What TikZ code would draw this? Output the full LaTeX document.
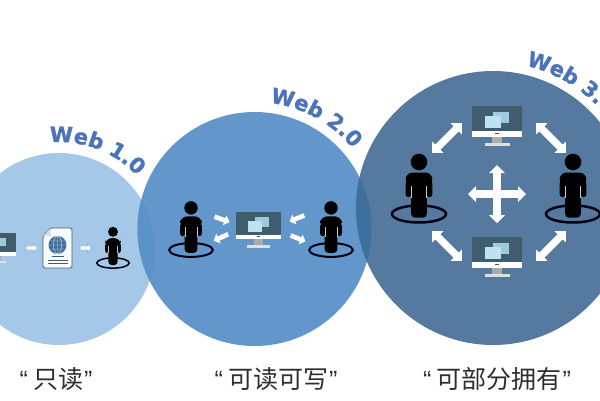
\documentclass[tikz,border=0pt]{standalone}
\usepackage{fontspec}
\setmainfont{Liberation Sans}
\newfontfamily\cjkfont{Noto Sans CJK SC}
\newfontfamily\webfont[FakeBold=1.4]{DejaVu Sans Bold}
\usetikzlibrary{calc}
\usetikzlibrary{shapes.arrows}
\usetikzlibrary{decorations.text}

\definecolor{webone}{HTML}{A5C8E9}
\definecolor{webtwo}{HTML}{6397CB}
\definecolor{webthree}{HTML}{56799F}
\definecolor{lensone}{HTML}{5B92C8}
\definecolor{lenstwo}{HTML}{3F6F9F}
\definecolor{webtitle}{HTML}{4A73B8}
\definecolor{screendark}{HTML}{3F5D6C}
\definecolor{winback}{HTML}{9CCBDD}
\definecolor{winfront}{HTML}{BFE2F2}
\definecolor{labelgrey}{HTML}{2E2E2E}

\tikzset{
	person/.pic={
		\draw [line width=\pgflinewidth,black!93!blue] (0,0) ellipse (27 and 8.5);
		\fill [black] (0,-52) circle (8.3);
		\fill [black,rounded corners=3.5] (-7.8,-38) rectangle (7.8,3.5);
		\fill [black,rounded corners=7] (-13.3,-28) -- (-13.3,-41.5) -- (13.3,-41.5) -- (13.3,-28) -- cycle;
		\fill [black,rounded corners=2.5] (-13.3,-17) rectangle (-7.6,-33);
		\fill [black,rounded corners=2.5] (7.6,-17) rectangle (13.3,-33);
		\draw [white!60!webthree,line width=0.5pt] (-7.7,-28) -- (-7.7,-16) (7.7,-28) -- (7.7,-16);
	},
	monitor/.pic={
		\fill [screendark] (-25,0) rectangle (25,25);
		\fill [winback] (-3.7,6) rectangle (12,17);
		\fill [winfront] (-12,10) rectangle (3.7,21.7);
		\fill [white] (-25,25) rectangle (25,30.5);
		\fill [black!70] (-2,27.2) rectangle (2,28.3);
		\fill [gray!65] (-5,30.5) rectangle (5,37);
		\fill [white!75!gray] (-12.5,37) rectangle (12.5,39.5);
	},
	docicon/.pic={
		\draw [screendark,fill=white!92!webone,line width=0.9pt,rounded corners=1.5] (-7,-20) -- (14.5,-20) -- (14.5,20) -- (-14.5,20) -- (-14.5,-12) -- cycle;
		\fill [webone!60!white] (-7,-20) -- (-7,-12) -- (-14.5,-12) -- cycle;
		\fill [lenstwo] (0,-3) circle (9);
		\draw [white!80!lenstwo,line width=0.4pt] (0,-3) ellipse (4 and 9) (-9,-3) -- (9,-3) (-8,-7) -- (8,-7) (-8,1) -- (8,1) (0,-12) -- (0,6);
		\draw [screendark,line width=0.7pt] (-6,8) -- (6,8) (-10,12) -- (10,12) (-10,15.5) -- (10,15.5);
	}
}
\tikzset{
	flowarrow/.style={single arrow,draw=webone!70!lenstwo,fill=white!85!webone,line width=0.5pt,inner sep=1.8pt,minimum height=12pt,minimum width=9pt,single arrow head extend=2.5pt},
	smallarrow/.style={single arrow,fill=white,inner sep=2.1pt,minimum height=16pt,minimum width=9.5pt,single arrow head extend=3pt},
	bigarrow/.style={double arrow,fill=white,inner sep=3.2pt,minimum height=42pt,minimum width=16pt,double arrow head extend=4pt},
	crossarrow/.style={double arrow,fill=white,inner sep=3.6pt,minimum height=58pt,minimum width=16pt,double arrow head extend=4pt},
	eralabel/.style={text=labelgrey,font=\fontsize{25}{25}\selectfont,inner sep=0pt}
}
\newcommand{\webtitle}{\webfont\fontsize{21}{21}\selectfont\color{webtitle}}

\begin{document}
\begin{tikzpicture}[x=1pt,y=-1pt]
\useasboundingbox (0,0) rectangle (600,400);
\clip (0,0) rectangle (600,400);

\coordinate (cone) at (59,249);
\coordinate (ctwo) at (254.5,229);
\coordinate (cthree) at (493,208);

% circles and the parts where they overlap
\fill [webone] (cone) circle (96pt);
\fill [webtwo] (ctwo) circle (117pt);
\fill [webthree] (cthree) circle (137pt);
\begin{scope}
\clip (cone) circle (96pt);
\fill [lensone] (ctwo) circle (117pt);
\end{scope}
\begin{scope}
\clip (ctwo) circle (117pt);
\fill [lenstwo] (cthree) circle (137pt);
\end{scope}

% titles
\path [decorate,decoration={text along path,text align=left,text={|\webtitle|Web 1.0}}]
	($(cone)+(95:107pt)$) arc [start angle=95,end angle=30,radius=107pt];
\path [decorate,decoration={text along path,text align=left,text={|\webtitle|Web 2.0}}]
	($(ctwo)+(83:127pt)$) arc [start angle=83,end angle=25,radius=127pt];
\path [decorate,decoration={text along path,text align=left,text={|\webtitle|Web 3.0}}]
	($(cthree)+(77:146pt)$) arc [start angle=77,end angle=20,radius=146pt];

% Web 1.0
\pic [scale=0.75] (monone) at (-3,233) {monitor};
\node [flowarrow] (flowa) at (31,248) {};
\pic (docone) at (57.5,248) {docicon};
\node [flowarrow] (flowb) at (85,248) {};
\pic [scale=0.6,line width=1.5pt] (perone) at (113,263) {person};

% Web 2.0
\pic [scale=0.81,line width=2pt] (perleft) at (191,250) {person};
\pic [scale=0.81,line width=2pt] (perright) at (331,250) {person};
\pic [scale=0.9] (montwo) at (258.5,212) {monitor};
\node [smallarrow,rotate=-20] (arra) at (221,219) {};
\node [smallarrow,rotate=-156] (arrb) at (222,237) {};
\node [smallarrow,rotate=-158] (arrc) at (298,218) {};
\node [smallarrow,rotate=-22] (arrd) at (297,238) {};

% Web 3.0
\pic [line width=2.5pt] (perwest) at (419,214) {person};
\pic [line width=2.5pt] (pereast) at (573,214) {person};
\pic (montop) at (497,106) {monitor};
\pic (monbot) at (497,237) {monitor};
\node [bigarrow,rotate=45] (diaga) at (447,138) {};
\node [bigarrow,rotate=-45] (diagb) at (551,138) {};
\node [bigarrow,rotate=-45] (diagc) at (447,246) {};
\node [bigarrow,rotate=45] (diagd) at (551,246) {};
\node [crossarrow] (crossh) at (497,194) {};
\node [crossarrow,rotate=90] (crossv) at (497,194) {};

% labels
\node [eralabel] (labone) at (56,379) {“\hspace{5pt}{\cjkfont 只读}\hspace{1pt}”};
\node [eralabel] (labtwo) at (276,379) {“\hspace{5pt}{\cjkfont 可读可写}\hspace{1pt}”};
\node [eralabel] (labthree) at (497,379) {“\hspace{5pt}{\cjkfont 可部分拥有}\hspace{1pt}”};
\end{tikzpicture}
\end{document}
